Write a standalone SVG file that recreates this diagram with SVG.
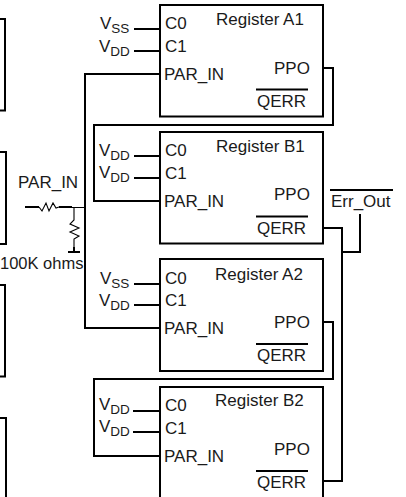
<svg xmlns="http://www.w3.org/2000/svg" width="406" height="497" viewBox="0 0 406 497">
<style>
.l{fill:none;stroke:#000;stroke-width:2}
.t{stroke:#000;stroke-width:1.100;fill:none}
text{font-family:"Liberation Sans",Arial,sans-serif;font-size:17px;fill:#1a1a1a}
.s{font-size:13.500px}
.b{fill:#fff;stroke:#000;stroke-width:2}
</style>
<g id="left-box-1"><path class="l" d="M0 19H5V110.500H0"/></g>
<g id="left-box-2"><path class="l" d="M0 152H6V244H0"/></g>
<g id="left-box-3"><path class="l" d="M0 285H5V376.500H0"/></g>
<g id="left-box-4"><path class="l" d="M0 418H6V497"/></g>
<g id="connectors">
<path class="l" d="M134 29H160M134 51H160"/>
<path class="l" d="M134 156H160M134 178H160"/>
<path class="l" d="M134 284H160M134 305H160"/>
<path class="l" d="M133 411H160M133 432H160"/>
<path class="l" d="M160 74H85V328H160"/>
<path class="l" d="M323 68H333V125H94V201H160"/>
<path class="l" d="M323 322H333V379H94V456H160"/>
<path class="l" d="M323 228H342V481H323"/>
<path class="l" d="M342 252H360V214"/>
<path class="l" d="M25 207H39M59 207H72"/>
<path class="t" d="M39 207L42 211L46 203L49 211L53 203L56 208L59 207M72 207.500H85"/>
<path class="t" d="M74 207V220L70 224L79 228L70 232L79 236L74 239V247"/>
<path class="l" d="M74 247V252M68 252H80"/>
</g>
<g id="register-a1"><rect class="b" x="160" y="5" width="163" height="111.500"/>
<text x="216" y="25">Register A1</text><text x="165" y="29">C0</text><text x="165" y="52">C1</text><text x="164" y="80">PAR_IN</text><text x="274" y="74">PPO</text><text x="257" y="107">QERR</text><path class="l" d="M256 89.500H308"/></g>
<g id="register-b1"><rect class="b" x="160" y="132" width="163" height="111.500"/>
<text x="216" y="152">Register B1</text><text x="165" y="156">C0</text><text x="165" y="179">C1</text><text x="164" y="207">PAR_IN</text><text x="274" y="200">PPO</text><text x="257" y="234">QERR</text><path class="l" d="M256 216.500H308"/></g>
<g id="register-a2"><rect class="b" x="160" y="259" width="163" height="112"/>
<text x="215" y="280">Register A2</text><text x="165" y="284">C0</text><text x="165" y="306">C1</text><text x="164" y="334">PAR_IN</text><text x="274" y="328">PPO</text><text x="257" y="361">QERR</text><path class="l" d="M256 344H308"/></g>
<g id="register-b2"><path class="b" d="M160 497V387H323V497"/>
<text x="215" y="406">Register B2</text><text x="165" y="411">C0</text><text x="165" y="434">C1</text><text x="164" y="462">PAR_IN</text><text x="274" y="455">PPO</text><text x="257" y="488">QERR</text><path class="l" d="M256 471H308"/></g>
<g id="supply-labels">
<text x="100" y="29">V<tspan class="s" dy="4">SS</tspan></text>
<text x="99" y="52">V<tspan class="s" dy="4">DD</tspan></text>
<text x="99" y="156">V<tspan class="s" dy="4">DD</tspan></text>
<text x="99" y="178">V<tspan class="s" dy="4">DD</tspan></text>
<text x="100" y="284">V<tspan class="s" dy="4">SS</tspan></text>
<text x="99" y="306">V<tspan class="s" dy="4">DD</tspan></text>
<text x="99" y="410">V<tspan class="s" dy="4">DD</tspan></text>
<text x="99" y="432">V<tspan class="s" dy="4">DD</tspan></text>
</g>
<g id="resistor-labels">
<text x="18" y="188">PAR_IN</text>
<text x="0" y="269" style="font-size:16.500px">100K ohms</text>
</g>
<g id="err-out"><text x="331" y="207">Err_Out</text><path class="l" d="M330 190H393"/></g>
</svg>
